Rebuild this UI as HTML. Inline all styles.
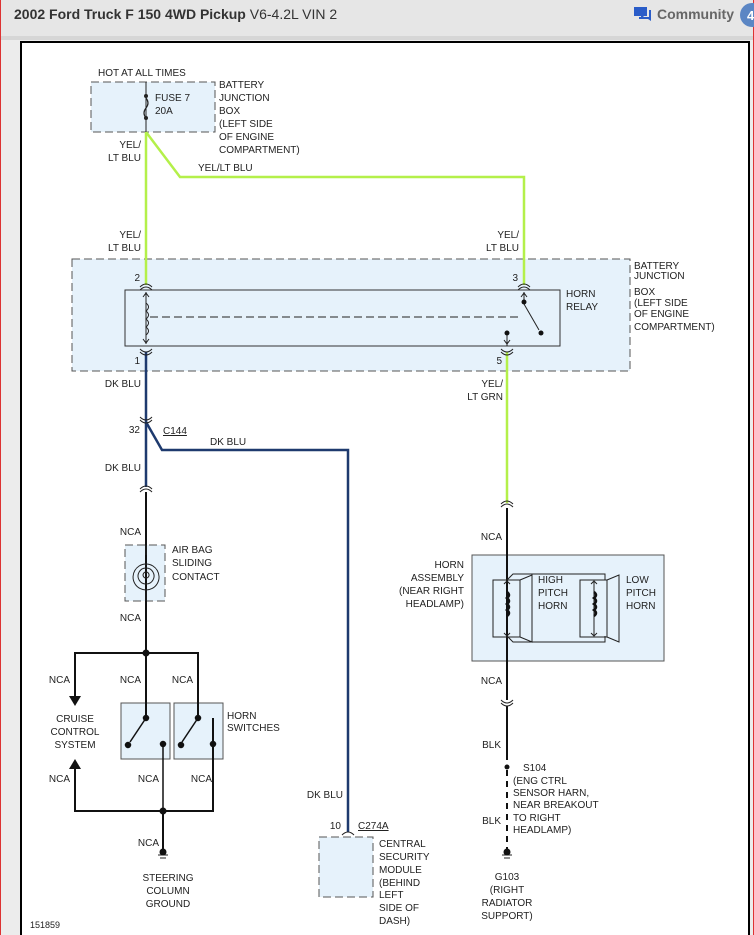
<!DOCTYPE html>
<html><head><meta charset="utf-8"><style>
html,body{margin:0;padding:0;width:754px;height:935px;overflow:hidden;background:#fff;font-family:"Liberation Sans",sans-serif;}
</style></head><body>
<svg width="754" height="935" xmlns="http://www.w3.org/2000/svg" font-family="Liberation Sans, sans-serif" font-size="10" fill="#222">
<rect x="0" y="0" width="754" height="935" fill="#ececec"/>
<rect x="0" y="0" width="754" height="36" fill="#e6e6e6"/>
<rect x="0" y="36" width="754" height="4" fill="#d6d6d6"/>
<line x1="0.5" y1="0" x2="0.5" y2="935" stroke="#d33" stroke-width="1"/>
<line x1="753.5" y1="0" x2="753.5" y2="935" stroke="#d33" stroke-width="1"/>
<text x="14" y="19" font-size="14" fill="#333"><tspan font-weight="bold">2002 Ford Truck F 150 4WD Pickup</tspan> V6-4.2L VIN 2</text>
<path d="M634 7h13v9h-3l-3 3v-3h-7z" fill="#2a5cc8"/><path d="M649 10h2v11l-3-2h-9v-2h10z" fill="#2a5cc8"/>
<text x="657" y="19" font-size="14" font-weight="bold" fill="#666">Community</text>
<circle cx="752" cy="15" r="12" fill="#5b86c4"/><text x="747" y="20" font-size="13" fill="#fff" font-weight="bold">4</text>
<rect x="21" y="42" width="728" height="900" fill="#fff" stroke="#000" stroke-width="2"/>

<g stroke-dasharray="8,4" stroke="#555" fill="#e6f2fb">
<rect x="91" y="82" width="124" height="50"/>
<rect x="72" y="259" width="558" height="112"/>
<rect x="125" y="545" width="40" height="56"/>
<rect x="319" y="837" width="54" height="60"/>
</g>
<rect x="125" y="290" width="435" height="56" fill="#e6f2fb" stroke="#333"/>
<rect x="472" y="555" width="192" height="106" fill="#e6f2fb" stroke="#555"/>
<rect x="121" y="703" width="49" height="56" fill="#e6f2fb" stroke="#555"/>
<rect x="174" y="703" width="49" height="56" fill="#e6f2fb" stroke="#555"/>

<!-- green wires -->
<g stroke="#b4f04a" stroke-width="2.5" fill="none">
<line x1="146" y1="132" x2="146" y2="285"/>
<polyline points="146,132 180,177 524,177 524,285"/>
<line x1="507" y1="352" x2="507" y2="503"/>
</g>
<line x1="146" y1="82" x2="146" y2="132" stroke="#222"/>
<circle cx="146" cy="96" r="2" fill="#222"/><circle cx="146" cy="118" r="2" fill="#222"/>
<path d="M146 98 q4 5 0 10 q-4 5 0 10" stroke="#222" fill="none" stroke-width="1.2"/>
<!-- dark blue -->
<g stroke="#1e3a6e" stroke-width="2.5" fill="none">
<line x1="146" y1="352" x2="146" y2="487"/>
<polyline points="146,422 162,450 348,450 348,832"/>
</g>
<!-- black -->
<g stroke="#111" stroke-width="2" fill="none">
<line x1="146" y1="492" x2="146" y2="718"/>
<polyline points="75,700 75,653 198,653 198,715"/>
<polyline points="75,765 75,811 213,811 213,718"/>
<line x1="163" y1="811" x2="163" y2="852"/>
<line x1="507" y1="508" x2="507" y2="700"/>
<line x1="507" y1="706" x2="507" y2="760"/>
</g>
<line x1="507" y1="770" x2="507" y2="852" stroke="#111" stroke-width="2" stroke-dasharray="6,5"/>
<polygon points="69,696 81,696 75,706" fill="#111"/>
<polygon points="69,769 81,769 75,759" fill="#111"/>
<circle cx="146" cy="653" r="3.5" fill="#111"/><circle cx="163" cy="811" r="3.5" fill="#111"/>
<!-- switches -->
<g stroke="#111" stroke-width="1.5" fill="#111">
<line x1="146" y1="718" x2="130" y2="742"/>
<circle cx="146" cy="718" r="2.5"/><circle cx="128" cy="745" r="2.5"/><circle cx="163" cy="744" r="2.5"/>
<line x1="163" y1="744" x2="163" y2="811"/>
<line x1="198" y1="718" x2="182" y2="742"/>
<circle cx="198" cy="718" r="2.5"/><circle cx="181" cy="745" r="2.5"/><circle cx="213" cy="744" r="2.5"/>
</g>
<!-- connectors -->
<g stroke="#222" fill="none" stroke-width="1">
<path d="M140 287 q6 -6 12 0"/><path d="M140 290 q6 -6 12 0"/>
<path d="M518 287 q6 -6 12 0"/><path d="M518 290 q6 -6 12 0"/>
<path d="M140 349 q6 6 12 0"/><path d="M140 352 q6 6 12 0"/>
<path d="M501 349 q6 6 12 0"/><path d="M501 352 q6 6 12 0"/>
<path d="M140 417 q6 6 12 0"/><path d="M140 420 q6 6 12 0"/>
<path d="M140 489 q6 -6 12 0"/><path d="M140 492 q6 -6 12 0"/>
<path d="M501 504 q6 -6 12 0"/><path d="M501 507 q6 -6 12 0"/>
<path d="M501 700 q6 6 12 0"/><path d="M501 703 q6 6 12 0"/>
<path d="M342 835 q6 -6 12 0"/>
<!-- relay -->
<line x1="146" y1="292" x2="146" y2="344"/><path d="M143 297 l3 -4 l3 4 M143 339 l3 4 l3 -4"/>
<path d="M146 303 q5 4 0 8 q5 4 0 8 q5 4 0 8 q5 4 0 8"/>
<line x1="150" y1="317" x2="520" y2="317" stroke-dasharray="8,4"/>
<line x1="524" y1="292" x2="524" y2="304"/><path d="M521 297 l3 -4 l3 4"/>
<line x1="524" y1="304" x2="539" y2="330"/>
<line x1="507" y1="334" x2="507" y2="346"/><path d="M504 340 l3 4 l3 -4"/>
<!-- spiral -->
<path d="M146 545 v10 M146 590 v11"/>
<path d="M146 590 a13 13 0 1 1 0.1 0 M146 584 a8 8 0 1 1 0.1 0 M146 578 a3 3 0 1 1 0.1 0"/>
<!-- horns -->
<path d="M507 580 l6 -6 h92 v6 M507 636 l6 6 h92 v-6"/>
<rect x="493" y="580" width="27" height="57"/><path d="M520 580 l12 -5 v67 l-12 -5"/>
<rect x="580" y="580" width="27" height="57"/><path d="M607 580 l12 -5 v67 l-12 -5"/>
<path d="M504 584 l3 -3 l3 3 M504 633 l3 3 l3 -3 M591 584 l3 -3 l3 3 M591 633 l3 3 l3 -3"/>
<line x1="594" y1="582" x2="594" y2="635"/>
<line x1="502" y1="855" x2="512" y2="855"/><line x1="504" y1="858" x2="510" y2="858"/>
<line x1="158" y1="855" x2="168" y2="855"/><line x1="160" y1="858" x2="166" y2="858"/>
</g>
<circle cx="524" cy="302" r="2.5" fill="#111"/><circle cx="541" cy="333" r="2.5" fill="#111"/><circle cx="507" cy="333" r="2.5" fill="#111"/>
<path d="M507 592 q4 3 0 6 q4 3 0 6 q4 3 0 6 q4 3 0 6" stroke="#111" stroke-width="2.5" fill="none"/>
<path d="M594 592 q4 3 0 6 q4 3 0 6 q4 3 0 6 q4 3 0 6" stroke="#111" stroke-width="2.5" fill="none"/>
<circle cx="507" cy="767" r="2.5" fill="#111"/>
<circle cx="507" cy="852" r="3.5" fill="#111"/><circle cx="163" cy="852" r="3.5" fill="#111"/>

<!-- text -->
<text x="98" y="76">HOT AT ALL TIMES</text>
<text x="155" y="101">FUSE 7</text><text x="155" y="114">20A</text>
<text x="219" y="88">BATTERY</text><text x="219" y="101">JUNCTION</text><text x="219" y="114">BOX</text><text x="219" y="127">(LEFT SIDE</text><text x="219" y="140">OF ENGINE</text><text x="219" y="153">COMPARTMENT)</text>
<g text-anchor="end">
<text x="141" y="148">YEL/</text><text x="141" y="161">LT BLU</text>
<text x="141" y="238">YEL/</text><text x="141" y="251">LT BLU</text>
<text x="519" y="238">YEL/</text><text x="519" y="251">LT BLU</text>
<text x="140" y="281">2</text><text x="518" y="281">3</text><text x="140" y="364">1</text><text x="502" y="364">5</text>
<text x="141" y="387">DK BLU</text><text x="141" y="471">DK BLU</text>
<text x="503" y="387">YEL/</text><text x="503" y="400">LT GRN</text>
<text x="140" y="433">32</text>
<text x="141" y="535">NCA</text><text x="141" y="621">NCA</text>
<text x="70" y="683">NCA</text><text x="141" y="683">NCA</text><text x="193" y="683">NCA</text>
<text x="70" y="782">NCA</text><text x="159" y="782">NCA</text><text x="212" y="782">NCA</text>
<text x="159" y="846">NCA</text>
<text x="502" y="540">NCA</text><text x="502" y="684">NCA</text>
<text x="464" y="568">HORN</text><text x="464" y="581">ASSEMBLY</text><text x="464" y="594">(NEAR RIGHT</text><text x="464" y="607">HEADLAMP)</text>
<text x="501" y="748">BLK</text><text x="501" y="824">BLK</text>
<text x="343" y="798">DK BLU</text><text x="341" y="829">10</text>
</g>
<text x="198" y="171">YEL/LT BLU</text>
<text x="566" y="297">HORN</text><text x="566" y="310">RELAY</text>
<text x="634" y="269">BATTERY</text><text x="634" y="279">JUNCTION</text><text x="634" y="295">BOX</text><text x="634" y="306">(LEFT SIDE</text><text x="634" y="317">OF ENGINE</text><text x="634" y="330">COMPARTMENT)</text>
<text x="163" y="434" text-decoration="underline">C144</text>
<text x="210" y="445">DK BLU</text>
<text x="172" y="553">AIR BAG</text><text x="172" y="566">SLIDING</text><text x="172" y="580">CONTACT</text>
<text x="227" y="719">HORN</text><text x="227" y="731">SWITCHES</text>
<g text-anchor="middle">
<text x="75" y="722">CRUISE</text><text x="75" y="735">CONTROL</text><text x="75" y="748">SYSTEM</text>
<text x="168" y="881">STEERING</text><text x="168" y="894">COLUMN</text><text x="168" y="907">GROUND</text>
<text x="507" y="880">G103</text><text x="507" y="893">(RIGHT</text><text x="507" y="906">RADIATOR</text><text x="507" y="919">SUPPORT)</text>
</g>
<text x="538" y="583">HIGH</text><text x="538" y="596">PITCH</text><text x="538" y="609">HORN</text>
<text x="626" y="583">LOW</text><text x="626" y="596">PITCH</text><text x="626" y="609">HORN</text>
<text x="523" y="771">S104</text><text x="513" y="784">(ENG CTRL</text><text x="513" y="796">SENSOR HARN,</text><text x="513" y="808">NEAR BREAKOUT</text><text x="513" y="821">TO RIGHT</text><text x="513" y="833">HEADLAMP)</text>
<text x="358" y="829" text-decoration="underline">C274A</text>
<text x="379" y="847">CENTRAL</text><text x="379" y="860">SECURITY</text><text x="379" y="873">MODULE</text><text x="379" y="886">(BEHIND</text><text x="379" y="898">LEFT</text><text x="379" y="911">SIDE OF</text><text x="379" y="924">DASH)</text>
<text x="30" y="928" font-size="9">151859</text>
</svg>
</body></html>
